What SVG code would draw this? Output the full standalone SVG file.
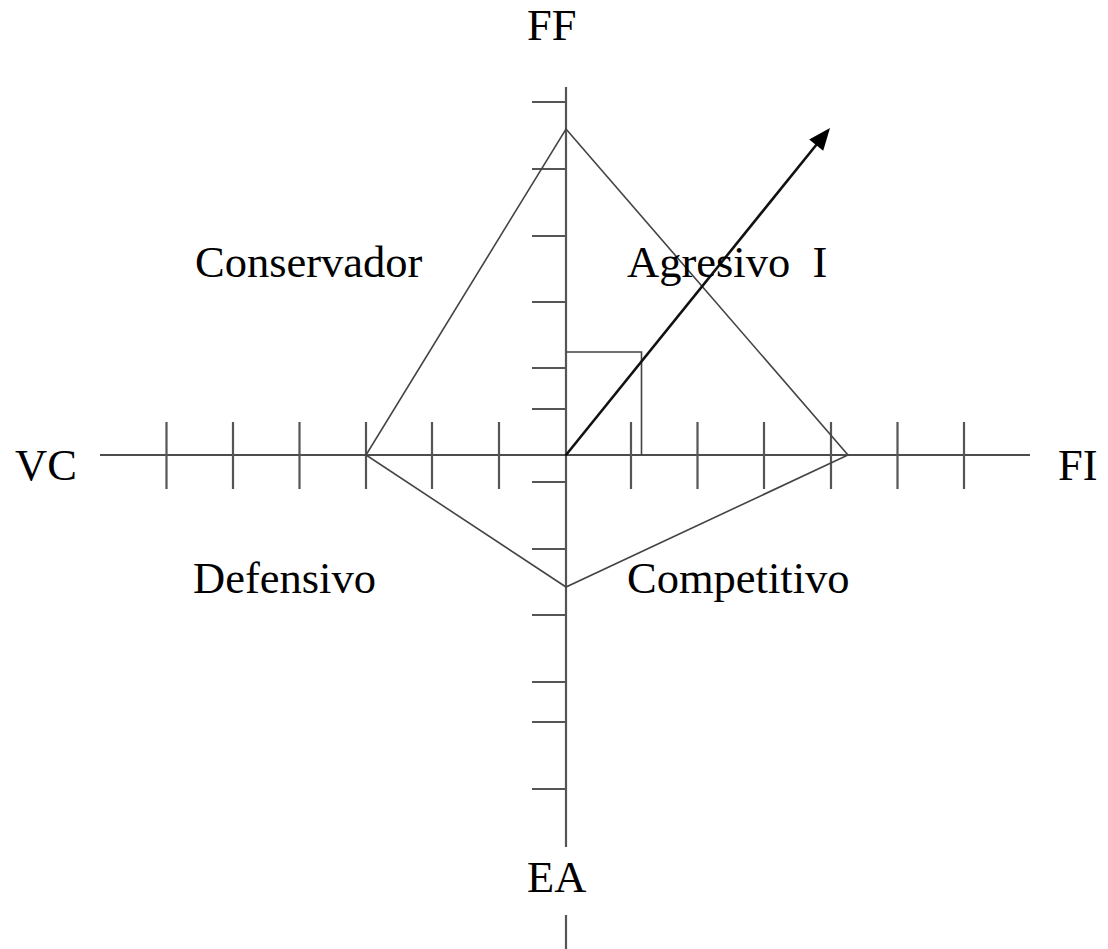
<svg xmlns="http://www.w3.org/2000/svg" width="1108" height="949" viewBox="0 0 1108 949">
<style>
.lbl{font-family:"Liberation Serif","Times New Roman",serif;font-size:44.5px;fill:#000}
.tick{stroke:#555;stroke-width:2.2;fill:none}
.axis{stroke:#555;stroke-width:2.2;fill:none}
.haxis{stroke:#111;stroke-width:1.6;fill:none}
.thin{stroke:#444;stroke-width:1.6;fill:none}
</style>
<rect width="1108" height="949" fill="#fff"/>
<g id="connectors">
<path class="axis" d="M566,87 V847 M566,915 V949"/>
<path class="haxis" d="M100,455 H1030"/>
<g id="ticks-v">
<path class="tick" d="M532,102 H566 M532,169 H566 M532,236 H566 M532,302 H566 M532,368 H566 M532,409 H566 M532,482 H566 M532,549 H566 M532,615 H566 M532,682 H566 M532,722 H566 M532,789 H566"/>
</g>
<g id="ticks-h">
<path class="tick" d="M166.5,422 V489 M233,422 V489 M299.5,422 V489 M366,422 V489 M432,422 V489 M499,422 V489 M631,422 V489 M697.5,422 V489 M764,422 V489 M831,422 V489 M897.5,422 V489 M964,422 V489"/>
</g>
<path id="diamond" class="thin" d="M566,129 L848,455 L566,587 L366,455 Z"/>
<path id="box" class="thin" d="M566,352 H641.5 V455"/>
<g id="vector">
<line x1="566" y1="455" x2="817" y2="144" stroke="#111" stroke-width="2.6"/>
<path d="M830,128 L823.2,150.8 L809.2,139.4 Z" fill="#000"/>
</g>
</g>
<g id="label-ff"><text class="lbl" x="527" y="40">FF</text></g>
<g id="label-ea"><text class="lbl" x="527" y="892">EA</text></g>
<g id="label-vc"><text class="lbl" x="15" y="480">VC</text></g>
<g id="label-fi"><text class="lbl" x="1058" y="480">FI</text></g>
<g id="label-conservador"><text class="lbl" x="195" y="277">Conservador</text></g>
<g id="label-agresivo"><text class="lbl" x="627" y="277" xml:space="preserve">Agresivo  I</text></g>
<g id="label-defensivo"><text class="lbl" x="193" y="593">Defensivo</text></g>
<g id="label-competitivo"><text class="lbl" x="627" y="593">Competitivo</text></g>
</svg>
